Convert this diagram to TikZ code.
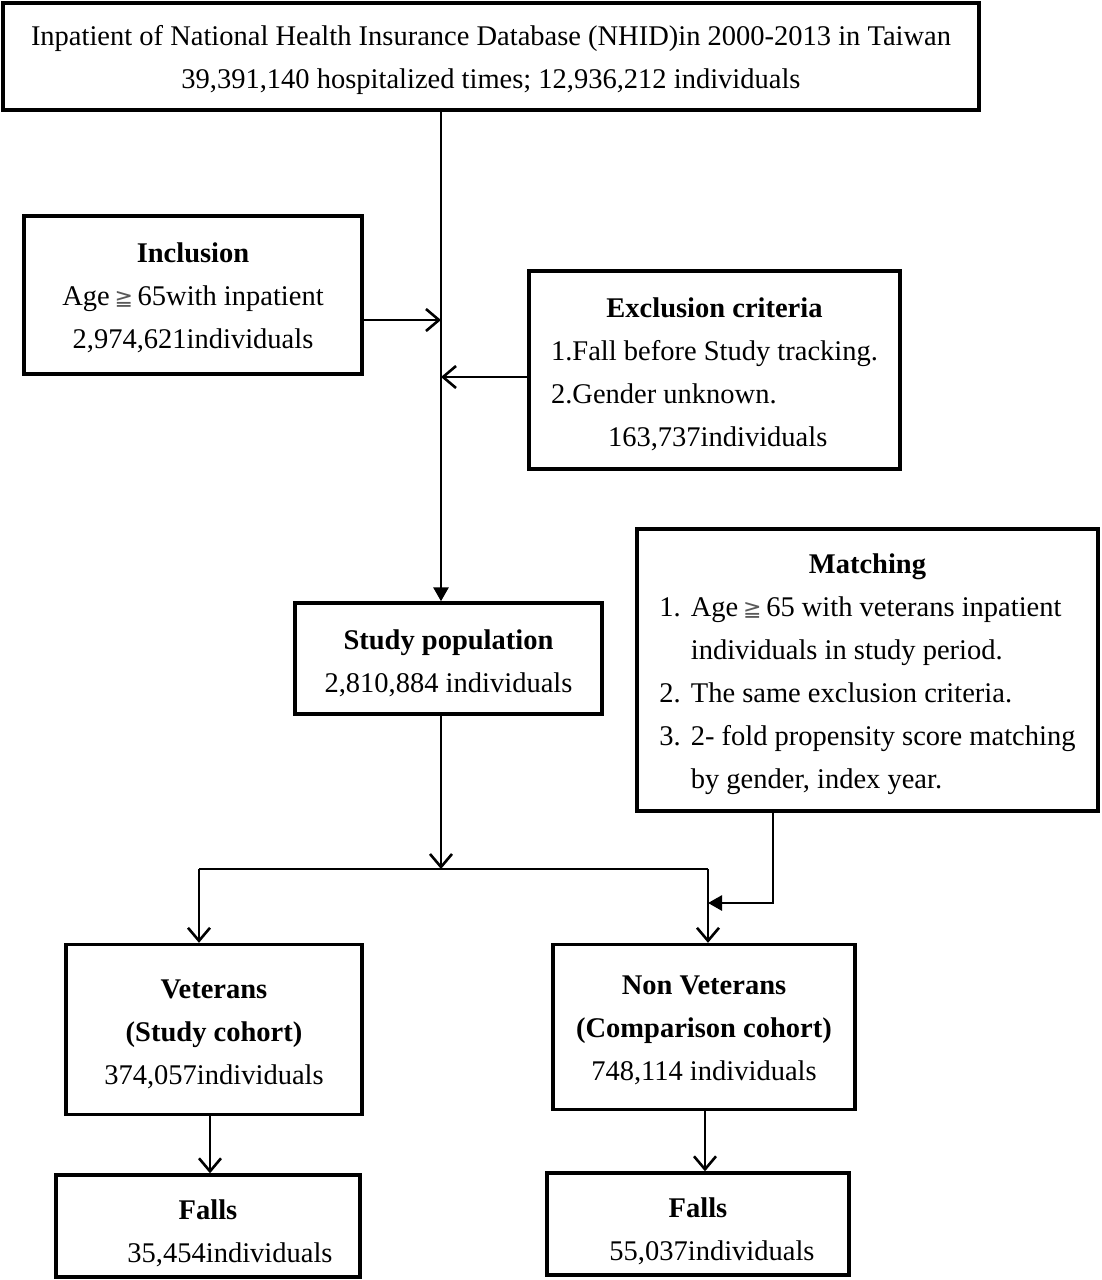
\documentclass[tikz,border=0pt]{standalone}
\usepackage{fontspec}
\setmainfont{Liberation Serif}
\newfontfamily\dv{DejaVu Sans}
\usetikzlibrary{arrows.meta}
\newcommand{\mygeq}{{\dv\fontsize{22}{43}\selectfont\color{black!65}≧}}
\newcommand{\st}[1]{\rule{0pt}{#1pt}}
\begin{document}
\begin{tikzpicture}[x=1pt,y=-1pt,
  box/.style 2 args={draw, line width=3.4pt, inner sep=0pt, align=center,
    minimum width=#1pt, minimum height=#2pt,
    font=\fontsize{28.5}{43}\selectfont},
  conn/.style={line width=2.8pt},
  vtip/.style={-{Straight Barb[length=13pt,width=22pt,line width=2.6pt]}},
  ftip/.style={-{Triangle[length=14pt,width=15pt]}}]
\useasboundingbox (0,0) rectangle (1102,1280);
\fill[white] (0,0) rectangle (1102,1280);

\node[box={976}{107}] (top) at (491,56.5)
  {\st{28}Inpatient of National Health Insurance Database (NHID)in 2000-2013 in Taiwan\\
   39,391,140 hospitalized times; 12,936,212 individuals};

\node[box={338}{158}] (inc) at (193,295)
  {\st{26}\textbf{Inclusion}\\ Age\,\mygeq\,65with inpatient\\ 2,974,621individuals};

\node[box={371}{198}] (exc) at (714.5,370)
  {\begin{tabular}{@{}l@{}}
   \multicolumn{1}{@{}c@{}}{\st{36}\textbf{Exclusion criteria}}\\
   1.Fall before Study tracking.\\
   2.Gender unknown.\\
   \hspace*{57pt}163,737individuals
   \end{tabular}};

\node[box={307}{111}] (sp) at (448.5,658.5)
  {\st{30}\textbf{Study population}\\ 2,810,884 individuals};

\node[box={461}{282}] (mat) at (867.5,670)
  {\begin{tabular}{@{}r@{\hspace{10pt}}l@{}}
   \multicolumn{2}{@{}c@{}}{\st{34}\textbf{Matching}}\\
   1. & Age\,\mygeq\,65 with veterans inpatient\\
      & individuals in study period.\\
   2. & The same exclusion criteria.\\
   3. & 2- fold propensity score matching\\
      & by gender, index year.
   \end{tabular}};

\node[box={296}{170}] (vet) at (214,1029.5)
  {\st{28}\textbf{Veterans}\\ \textbf{(Study cohort)}\\ 374,057individuals};

\node[box={302}{165}] (nv) at (704,1027)
  {\st{26}\textbf{Non Veterans}\\ \textbf{(Comparison cohort)}\\ 748,114 individuals};

\node[box={304}{102}] (f1) at (208,1226)
  {\st{34}\textbf{Falls}\\ \hspace*{44pt}35,454individuals};

\node[box={302}{102}] (f2) at (698,1224)
  {\st{34}\textbf{Falls}\\ \hspace*{28pt}55,037individuals};

\coordinate (mx) at (441,0);
\coordinate (j1) at (441,320);
\coordinate (j2) at (441,377);
\coordinate (j3) at (441,869);
\coordinate (jl) at (199,869);
\coordinate (jr) at (708,869);
\coordinate (jm) at (773,903);
\coordinate (cl) at (210,0);
\coordinate (cr) at (705,0);

\draw[conn, ftip] (top.south -| mx) -- (sp.north -| mx);
\draw[conn, vtip] (inc.east |- j1) -- (j1);
\draw[conn, vtip] (exc.west |- j2) -- (j2);
\draw[conn, vtip] (sp.south -| j3) -- (j3);
\draw[conn] (jl) -- (jr);
\draw[conn, vtip] (jl) -- (vet.north -| jl);
\draw[conn, vtip] (jr) -- (nv.north -| jr);
\draw[conn, ftip] (mat.south -| jm) -- (jm) -- (jr |- jm);
\draw[conn, vtip] (vet.south -| cl) -- (f1.north -| cl);
\draw[conn, vtip] (nv.south -| cr) -- (f2.north -| cr);
\end{tikzpicture}
\end{document}
